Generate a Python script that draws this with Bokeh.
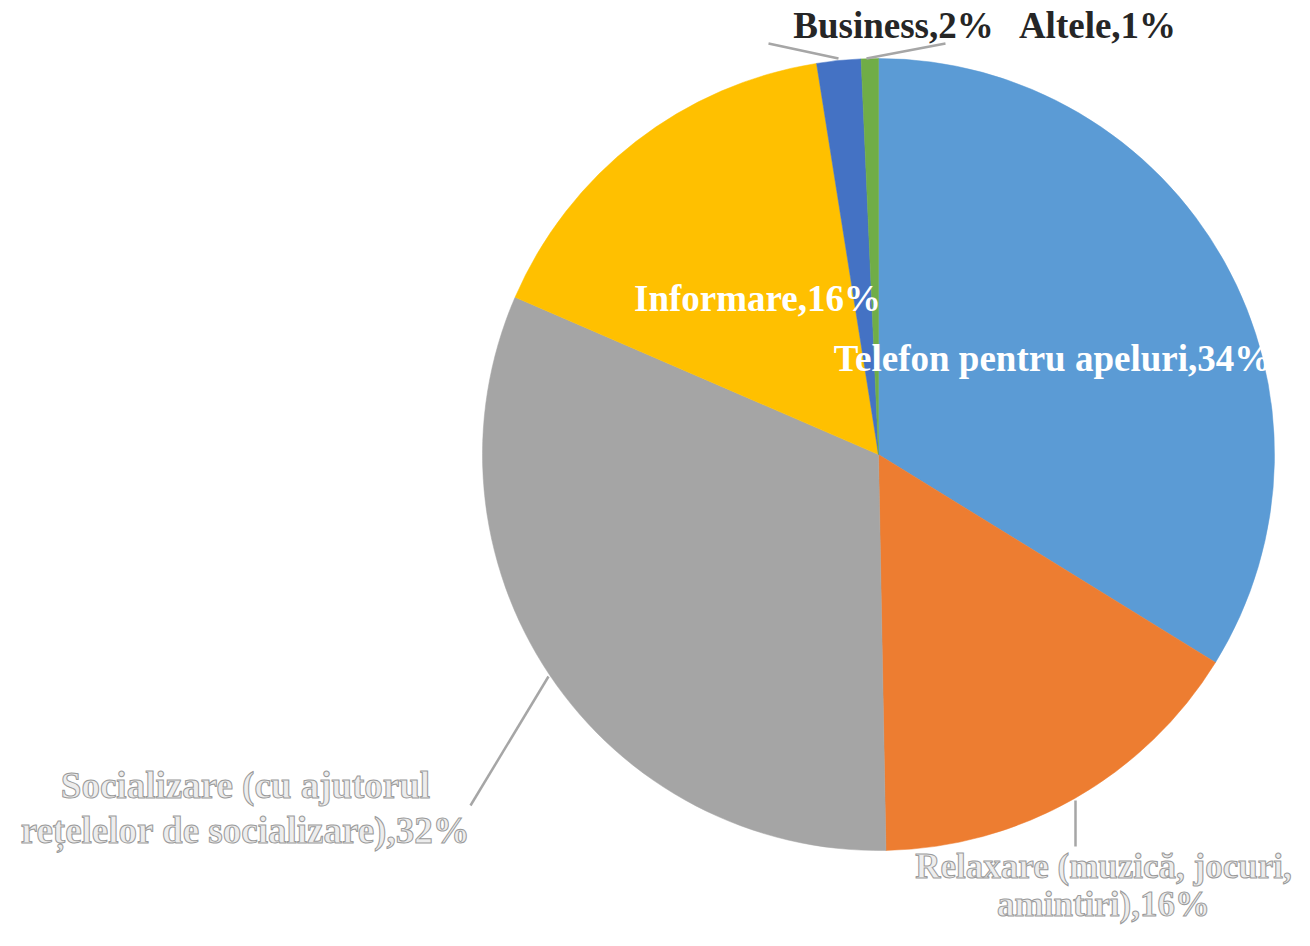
import numpy as np
from bokeh.plotting import figure
from bokeh.models import Range1d, ColumnDataSource
from bokeh.core.properties import value
from bokeh.embed import file_html
from bokeh.resources import INLINE

categories = ["Telefon pentru apeluri", "Relaxare (muzică, jocuri, amintiri)",
              "Socializare (cu ajutorul rețelelor de socializare)", "Informare",
              "Business", "Altele"]
shares = [33.8, 15.9, 31.8, 16.0, 1.8, 0.7]
pct_labels = ["34%", "16%", "32%", "16%", "2%", "1%"]
colors = ["#5B9BD5", "#ED7D31", "#A5A5A5", "#FFC000", "#4472C4", "#70AD47"]

W, H = 1294, 930
def px(X, Y):
    return X, H - Y

p = figure(width=W, height=H, output_backend="svg", toolbar_location=None,
           x_range=Range1d(0, W), y_range=Range1d(0, H),
           x_axis_location=None, y_axis_location=None, min_border=0)
p.grid.visible = False
p.outline_line_color = None
p.background_fill_color = "white"
p.border_fill_color = "white"

vals = np.array(shares, dtype=float)
frac = vals / vals.sum()
cum = np.concatenate([[0], np.cumsum(frac)])
start = np.pi / 2 - cum[:-1] * 2 * np.pi
end = np.pi / 2 - cum[1:] * 2 * np.pi
cx, cy = px(878, 454)
src = ColumnDataSource(dict(start=start, end=end, color=colors, name=categories))
p.wedge(x=cx, y=cy, radius=396, start_angle="start", end_angle="end",
        direction="clock", fill_color="color", line_color="color", line_width=0.5,
        source=src)

font = value("Liberation Serif")

def seg(a, b, color="#A6A6A6", w=2.5):
    x0, y0 = px(*a); x1, y1 = px(*b)
    p.line([x0, x1], [y0, y1], line_color=color, line_width=w)

seg((470, 805), (548, 676))
seg((1075, 800), (1075, 846))
seg((768, 43), (838, 58))
seg((945, 43), (866, 58))

def label(X, Y, txt, color, outline=None, size="37px"):
    x, y = px(X, Y)
    kw = {}
    if outline:
        kw["text_outline_color"] = outline
    p.text(x=[x], y=[y], text=[txt], text_font=font, text_font_size=size,
           text_font_style="bold", text_color=color, text_align="center",
           text_baseline="middle", **kw)

label(1052, 358, f"Telefon pentru apeluri,{pct_labels[0]}", "white")
label(757, 298, f"Informare,{pct_labels[3]}", "white")
label(893, 25, f"Business,{pct_labels[4]}", "#262626")
label(1097, 25, f"Altele,{pct_labels[5]}", "#262626")
label(245, 785, "Socializare (cu ajutorul", "#EDEDED", "#9A9A9A")
label(245, 830, f"rețelelor de socializare),{pct_labels[2]}", "#EDEDED", "#9A9A9A")
label(1103, 866, "Relaxare (muzică, jocuri,", "#EDEDED", "#9A9A9A", size="35px")
label(1103, 904, f"amintiri),{pct_labels[1]}", "#EDEDED", "#9A9A9A", size="35px")

open("out.html", "w").write(file_html(p, INLINE))
